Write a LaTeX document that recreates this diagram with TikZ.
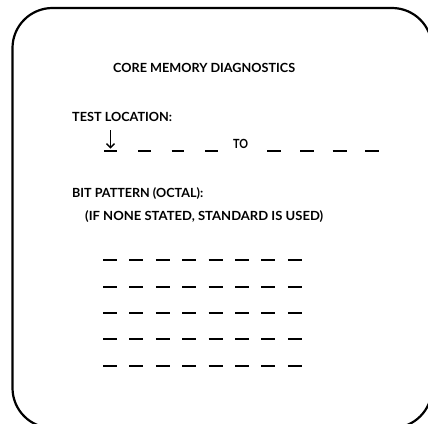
\documentclass[tikz,border=0pt]{standalone}
\usepackage{fontspec}
\setmainfont{Lato}
\usetikzlibrary{arrows.meta}
\newcommand\fitw[2]{\resizebox{#1}{\height}{#2}}
\tikzset{
  lbl/.style={anchor=base west, inner sep=0pt, font=\fontsize{12.6}{14}\selectfont\bfseries},
  blank/.style={line width=1.8pt},
  frame/.style={line width=2.2pt, rounded corners=40pt}
}
\begin{document}
\begin{tikzpicture}[x=1pt,y=-1pt]
\useasboundingbox (0,0) rectangle (428,423);
\clip (0,0) rectangle (428,423);
\draw[frame] (12.5,8) rectangle (432,428);
\node[lbl] (title) at (113,72) {\fitw{182pt}{CORE MEMORY DIAGNOSTICS}};
\node[lbl] (testloc) at (72,121) {\fitw{100pt}{TEST LOCATION:}};
\coordinate (atop) at (110.5,130);
\coordinate (abot) at (110.5,148.5);
\draw[line width=1.3pt, -{Straight Barb[length=4pt,width=8pt]}] (atop) -- (abot);
\draw[blank] (104,151) -- (117,151);
\foreach \x in {138,171.5,205}{\draw[blank] (\x,151) -- ++(12.5,0);}
\node[lbl] (to) at (233,148) {\fitw{15pt}{TO}};
\foreach \x in {267,300,332.5,365}{\draw[blank] (\x,151) -- ++(14,0);}
\node[lbl] (bitpat) at (72,197) {\fitw{131pt}{BIT PATTERN (OCTAL):}};
\node[lbl] (ifnone) at (85,220) {\fitw{238pt}{(IF NONE STATED, STANDARD IS USED)}};
\foreach \y in {260,287,313,339,366}{
  \foreach \c in {0,...,7}{
    \draw[blank] (103+26.4*\c, \y) -- ++(14,0);
  }
}
\end{tikzpicture}
\end{document}
